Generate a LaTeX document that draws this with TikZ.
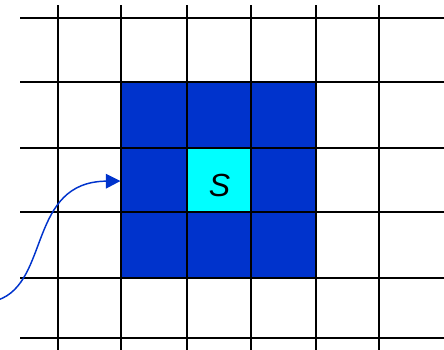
\documentclass[tikz,border=0pt]{standalone}
\usepackage{fontspec}
\setmainfont{Liberation Sans}
\usetikzlibrary{arrows.meta}
\definecolor{nbblue}{HTML}{0033CC}
\definecolor{nbcyan}{HTML}{00FFFF}
\tikzset{
  gridline/.style={line width=1.2pt, black},
  pointer/.style={nbblue, line width=1.1pt, -{Triangle[length=11pt,width=11pt]}}
}
\begin{document}
\begin{tikzpicture}[x=0.75pt,y=-0.75pt]
\useasboundingbox (0,0) rectangle (444,350);
\fill[nbblue] (121,81.7) rectangle (316,277.7);
\fill[nbcyan] (187,147.7) rectangle (251,211.7);
\foreach \x in {58,121,187,251,316,379}
  \draw[gridline] (\x,5) -- (\x,350);
\foreach \y in {17.7,81.7,147.7,211.7,277.7,338}
  \draw[gridline] (20,\y) -- (444,\y);
\node (s) at (219.5,185) {\fontsize{24}{24}\selectfont\itshape S};
\coordinate (start) at (-2,300);
\coordinate (tip) at (120.5,181);
\draw[pointer] (start) .. controls (50,282) and (28,182) .. (tip);
\end{tikzpicture}
\end{document}
